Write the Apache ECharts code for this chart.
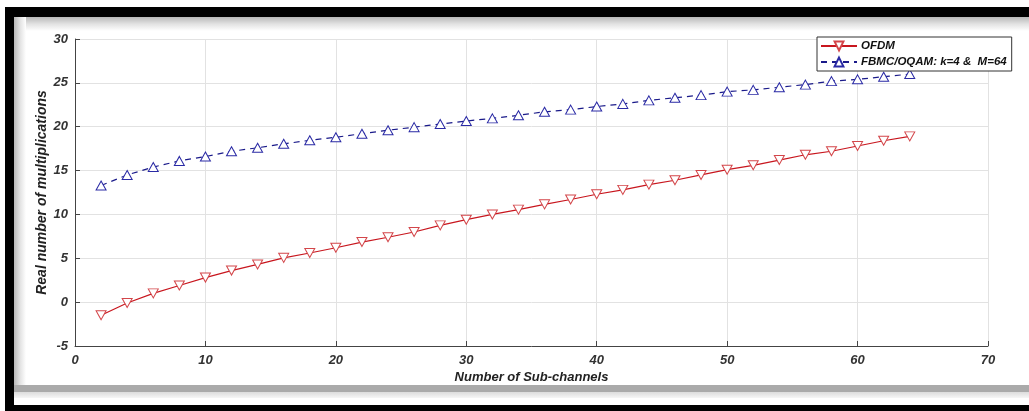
<!DOCTYPE html>
<html>
<head>
<meta charset="utf-8">
<script src="https://cdn.jsdelivr.net/npm/echarts@6/dist/echarts.min.js"></script>
<style>
html,body{margin:0;padding:0;background:#fff;}
#c{width:1029px;height:411px;}
</style>
</head>
<body>
<div id="c"></div>
<script>
var subChannels = [2,4,6,8,10,12,14,16,18,20,22,24,26,28,30,32,34,36,38,40,42,44,46,48,50,52,54,56,58,60,62,64];
var ofdm = [-1.5,-0.1,1.0,1.9,2.8,3.6,4.3,5.05,5.6,6.2,6.85,7.4,8.0,8.75,9.4,10.0,10.55,11.15,11.7,12.3,12.8,13.4,13.9,14.5,15.1,15.6,16.2,16.8,17.2,17.8,18.4,18.9];
var fbmc = [13.3,14.5,15.4,16.1,16.6,17.2,17.6,18.05,18.45,18.8,19.2,19.6,19.95,20.3,20.65,20.95,21.3,21.7,21.95,22.3,22.6,23.0,23.3,23.6,24.0,24.2,24.5,24.8,25.2,25.4,25.7,26.0];
var xTicks = {min:0, max:70, interval:10};
var yTicks = {min:-5, max:30, interval:5};
var seriesNames = ['OFDM', 'FBMC/OQAM: k=4 &  M=64'];

function pairs(xs, ys){ return xs.map(function(x,i){ return [x, ys[i]]; }); }

var font = 'Liberation Sans, Arial, sans-serif';
var chart = echarts.init(document.getElementById('c'), null, {renderer:'canvas'});
chart.setOption({
  animation:false,
  backgroundColor:'#ffffff',
  graphic:[
    {type:'rect', shape:{x:14,y:17,width:1015,height:14}, style:{fill:new echarts.graphic.LinearGradient(0,0,0,1,[{offset:0,color:'#b8b8b8'},{offset:0.5,color:'#e2e2e2'},{offset:1,color:'#ffffff'}])}, z:-1},
    {type:'rect', shape:{x:14,y:17,width:12,height:368}, style:{fill:new echarts.graphic.LinearGradient(0,0,1,0,[{offset:0,color:'#b8b8b8'},{offset:0.5,color:'#e2e2e2'},{offset:1,color:'#ffffff'}])}, z:-1},
    {type:'rect', shape:{x:14,y:385,width:1015,height:7}, style:{fill:'#aaaaaa'}, z:-1},
    {type:'rect', shape:{x:14,y:392,width:1015,height:6}, style:{fill:new echarts.graphic.LinearGradient(0,0,0,1,[{offset:0,color:'#dcdcdc'},{offset:1,color:'#f6f6f6'}])}, z:-1},
    {type:'rect', shape:{x:5,y:7,width:1024,height:10}, style:{fill:'#000000'}, z:10},
    {type:'rect', shape:{x:5,y:7,width:9,height:404}, style:{fill:'#000000'}, z:10},
    {type:'rect', shape:{x:5,y:405,width:1024,height:6}, style:{fill:'#000000'}, z:10}
  ],
  grid:{left:75, right:41, top:39, bottom:65, containLabel:false},
  legend:{
    orient:'vertical', left:817, top:37,
    data:seriesNames,
    backgroundColor:'#ffffff',
    borderColor:'#333333', borderWidth:1,
    padding:[3,5,3,3],
    itemWidth:36, itemHeight:11, itemGap:4,
    textStyle:{fontFamily:font, fontSize:11.5, fontWeight:'bold', fontStyle:'italic', color:'#111111', padding:[0,0,0,-1]}
  },
  xAxis:{
    type:'value', min:xTicks.min, max:xTicks.max, interval:xTicks.interval,
    name:'Number of Sub-channels', nameLocation:'middle', nameGap:25, nameMoveOverlap:false,
    nameTextStyle:{fontFamily:font, fontSize:13, fontWeight:'bold', fontStyle:'italic', color:'#222222'},
    axisLine:{show:true, onZero:false, lineStyle:{color:'#444444', width:1}},
    axisTick:{show:true, inside:true, length:5, lineStyle:{color:'#444444'}},
    axisLabel:{fontFamily:font, fontSize:13, fontWeight:'bold', fontStyle:'italic', color:'#333333', margin:8},
    splitLine:{show:true, lineStyle:{color:'#e2e2e2', width:1}}
  },
  yAxis:{
    type:'value', min:yTicks.min, max:yTicks.max, interval:yTicks.interval,
    name:'Real number of multiplications', nameLocation:'middle', nameGap:26, nameMoveOverlap:false,
    nameTextStyle:{fontFamily:font, fontSize:14, fontWeight:'bold', fontStyle:'italic', color:'#222222'},
    axisLine:{show:true, onZero:false, lineStyle:{color:'#444444', width:1}},
    axisTick:{show:true, inside:true, length:5, lineStyle:{color:'#444444'}},
    axisLabel:{fontFamily:font, fontSize:13, fontWeight:'bold', fontStyle:'italic', color:'#333333', margin:7},
    splitLine:{show:true, lineStyle:{color:'#e2e2e2', width:1}}
  },
  series:[
    {
      name:seriesNames[0], type:'line', data:pairs(subChannels, ofdm),
      symbol:'triangle', symbolRotate:180, symbolSize:[10,9], showSymbol:true,
      lineStyle:{color:'#c8161e', width:1.2},
      itemStyle:{color:'#ffffff', borderColor:'#d3464a', borderWidth:1},
      z:3
    },
    {
      name:seriesNames[1], type:'line', data:pairs(subChannels, fbmc),
      symbol:'triangle', symbolSize:[10,9], showSymbol:true,
      lineStyle:{color:'#1a1a8a', width:1.2, type:[6,5]},
      itemStyle:{color:'#ffffff', borderColor:'#2a2aa5', borderWidth:1},
      z:3
    }
  ]
});
</script>
</body>
</html>
